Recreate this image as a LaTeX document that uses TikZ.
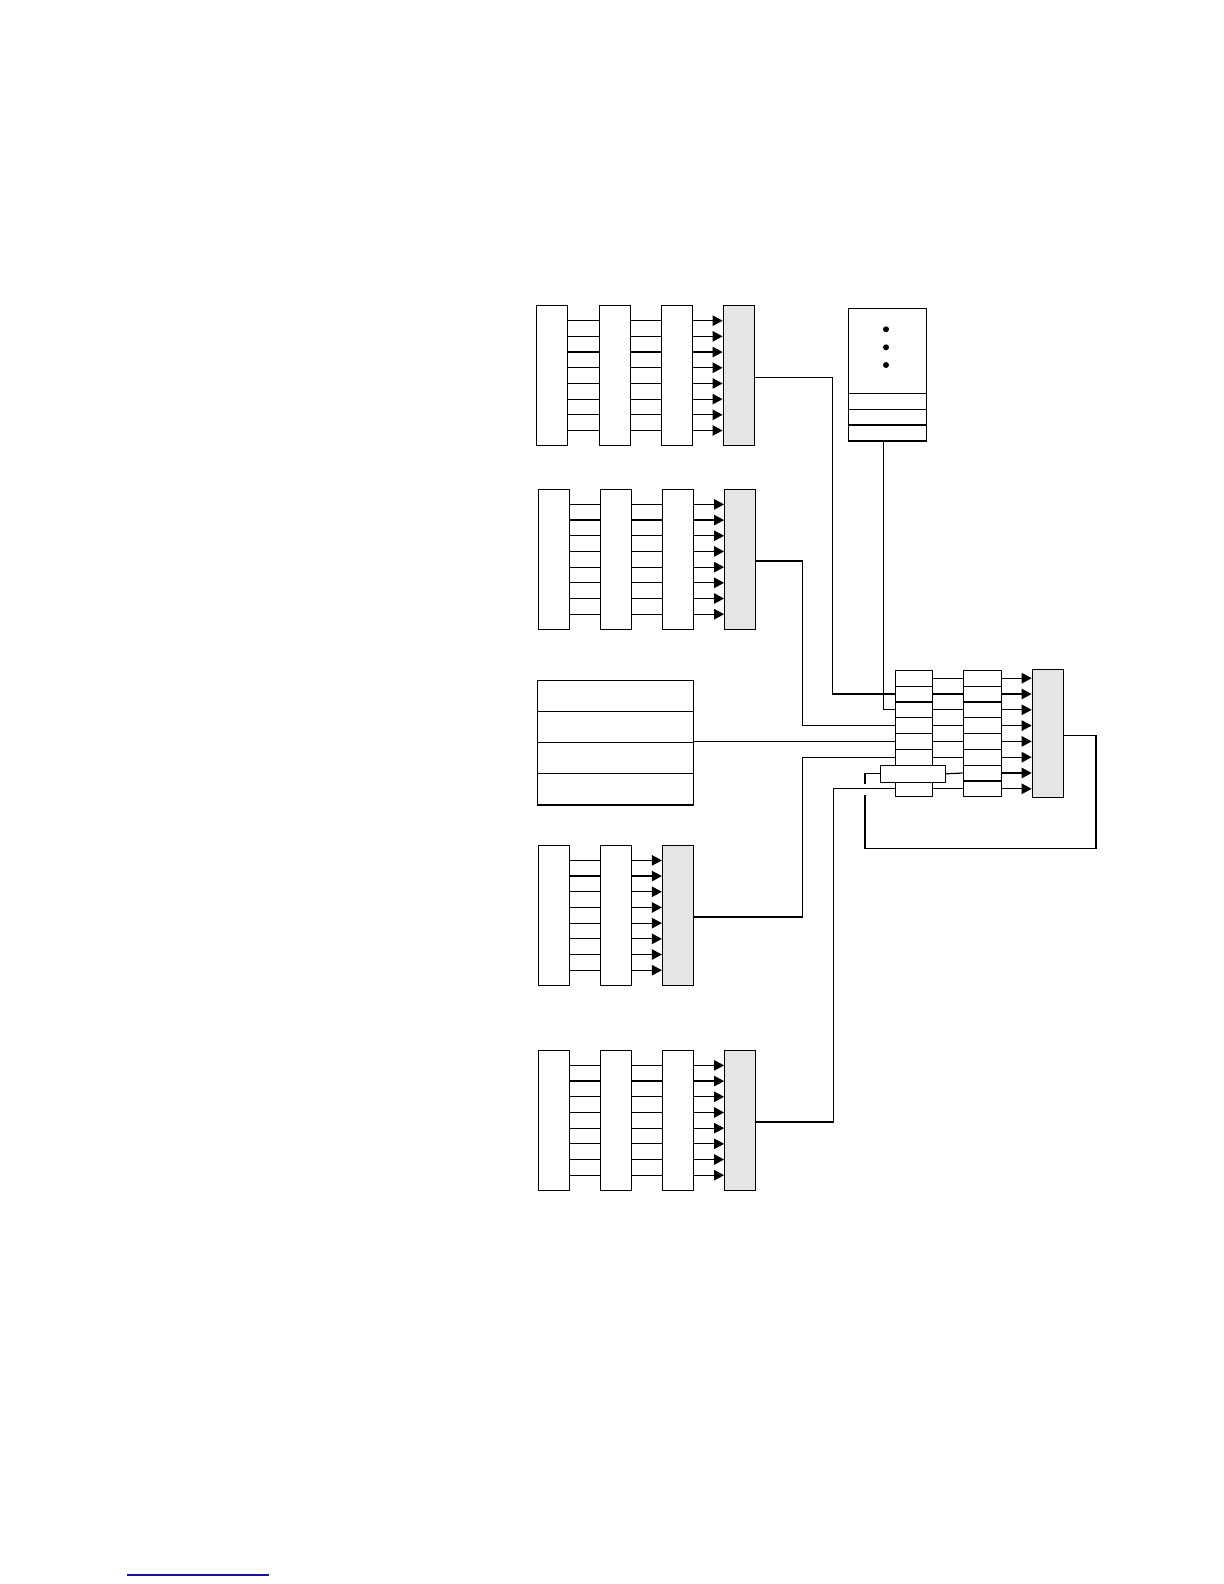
\documentclass[tikz,border=0pt]{standalone}
\usepackage{tikz}
\usetikzlibrary{arrows.meta,calc}
\definecolor{linkblue}{RGB}{20,20,160}
\tikzset{
  col/.style={draw,fill=white,inner sep=0pt,minimum width=15.5pt,minimum height=70pt},
  sink/.style={col,fill=gray!20},
  cell/.style={draw,fill=white,inner sep=0pt,minimum height=7.9pt},
}

\begin{document}
\begin{tikzpicture}[x=0.5pt,y=-0.5pt,line width=0.6pt,>={Triangle[length=5pt,width=5.2pt]}]
  \useasboundingbox (0,0) rectangle (1224,1584);
  % pipelines with three register columns
  \foreach \p/\xa/\yc in {1/552.3/375.6,2/553.8/559.3,4/553.8/1120.3} {
    \node[col] (a\p) at (\xa,\yc) {};
    \node[col] (b\p) at ({\xa+62.4},\yc) {};
    \node[col] (c\p) at ({\xa+124.4},\yc) {};
    \node[sink] (d\p) at ({\xa+186.4},\yc) {};
    \foreach \k in {1,...,8} {
      \draw ($(a\p.north east)!\k/9!(a\p.south east)$) -- ($(b\p.north west)!\k/9!(b\p.south west)$);
      \draw ($(b\p.north east)!\k/9!(b\p.south east)$) -- ($(c\p.north west)!\k/9!(c\p.south west)$);
      \draw[->] ($(c\p.north east)!\k/9!(c\p.south east)$) -- ($(d\p.north west)!\k/9!(d\p.south west)$);
    }
  }
  % pipeline with two register columns
  \node[col] (a3) at (553.8,915.3) {};
  \node[col] (b3) at (615.8,915.3) {};
  \node[sink] (d3) at (678,915.3) {};
  \foreach \k in {1,...,8} {
    \draw ($(a3.north east)!\k/9!(a3.south east)$) -- ($(b3.north west)!\k/9!(b3.south west)$);
    \draw[->] ($(b3.north east)!\k/9!(b3.south east)$) -- ($(d3.north west)!\k/9!(d3.south west)$);
  }
  % table
  \foreach \k in {1,...,4}
    \node[cell,minimum width=78pt,minimum height=15.5pt] (t\k) at (615.3,{664.8+31*\k}) {};
  \draw[line width=1.2pt] (t4.south west) -- (t4.south east);
  % stack
  \node[draw,fill=white,inner sep=0pt,minimum width=39.2pt,minimum height=42.5pt] (stk) at (887.5,350.8) {};
  \foreach \k in {1,2,3}
    \node[cell,minimum width=39.2pt] (s\k) at (887.5,{385.35+15.9*\k}) {};
  \foreach \dy in {329.3,347.3,365}
    \fill (886,\dy) circle (1.5pt);
  % merge stage
  \foreach \k in {1,...,8} {
    \node[cell,minimum width=18.5pt] (e\k) at (913.8,{662.4+15.8*\k}) {};
    \node[cell,minimum width=19pt] (g\k) at (982.3,{662.4+15.8*\k}) {};
  }
  \node[sink,minimum width=15.7pt,minimum height=64pt] (h) at (1048,733.3) {};
  \node[cell,minimum width=32.5pt,minimum height=8.5pt] (f) at (912.8,773.8) {};
  \foreach \k in {1,2,3,4,5,6,8}
    \draw (e\k.east) -- (g\k.west);
  \draw (f.east) -- (g7.west);
  \foreach \k in {1,...,8}
    \draw[->] (g\k.east) -- (g\k.east -| h.west);
  % wiring
  \coordinate (bus1) at (832.3,0);
  \coordinate (bus2) at (802.7,0);
  \coordinate (bus3) at (833.3,0);
  \coordinate (fbend) at (865,795);
  \coordinate (fbin) at (865,784.3);
  \draw ([yshift=-0.8pt]d1.east) -| (bus1 |- e2) -- (e2.west);
  \draw ([yshift=-0.8pt]d2.east) -| (bus2 |- e4) -- (e4.west);
  \draw ([yshift=-0.8pt]d3.east) -| (bus2 |- e6) -- (e6.west);
  \draw ([yshift=-0.8pt]d4.east) -| (bus3 |- e8) -- (e8.west);
  \draw ([xshift=-2.1pt]s3.south) |- (e3.west);
  \draw (t3.north east) -- (t3.north east -| e5.west);
  \draw ([yshift=-1pt]h.east) -| ++(31.6,113) -| (fbend);
  \draw (fbin) |- (f.west);
  \draw[linkblue] (127,1575) -- (269,1575);
\end{tikzpicture}
\end{document}
